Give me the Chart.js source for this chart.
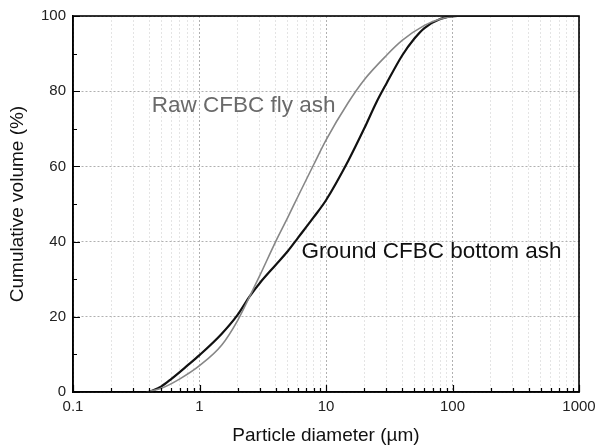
<!DOCTYPE html>
<html>
<head>
<meta charset="utf-8">
<script src="https://cdn.jsdelivr.net/npm/chart.js@4/dist/chart.umd.min.js"></script>
<style>
  html, body { margin: 0; padding: 0; background: #fff; }
  #wrap { width: 597px; height: 447px; }
</style>
</head>
<body>
<div id="wrap"><canvas id="psdChart"></canvas></div>
<script>
// particle size (um) and cumulative volume (%)
const rawSize = [0.38, 0.5, 0.7, 1, 1.5, 2, 2.5, 3, 4, 5, 6, 8, 10, 15, 20, 30, 40, 60, 80, 110, 1000];
const rawCum  = [0,    1,   3.5, 7, 12.5, 19, 25.5, 31, 40, 46.5, 52, 60.5, 67, 77, 83, 89.5, 93.5, 97.5, 99.2, 100, 100];

const groundSize = [0.4, 0.5, 0.6, 0.8, 1, 1.5, 2, 2.5, 3, 4, 5, 6, 8, 10, 15, 20, 25, 30, 40, 50, 60, 80, 110, 1000];
const groundCum  = [0,   1.5, 3.5, 7, 9.8, 15.5, 20.5, 25.5, 29, 33.8, 37.5, 41, 46.5, 51, 61.5, 70, 77, 82, 89.5, 94, 96.8, 99.2, 100, 100];

const xTickLabels = ['0.1', '1', '10', '100', '1000'];
const yTickLabels = ['0', '20', '40', '60', '80', '100'];

const seriesNames = ['Raw CFBC fly ash', 'Ground CFBC bottom ash'];

const FONT = '"Liberation Sans", Arial, sans-serif';

function toPoints(xs, ys) {
    return xs.map((x, i) => ({ x: x, y: ys[i] }));
}

function isDecade(v) {
    const l = Math.log10(v);
    return Math.abs(l - Math.round(l)) < 1e-9;
}

// frame, inward tick marks and curve labels
const framePlugin = {
    id: 'frame',
    afterDraw(chart) {
        const ctx = chart.ctx;
        const area = chart.chartArea;
        const xs = chart.scales.x;
        const ys = chart.scales.y;

        ctx.save();
        ctx.strokeStyle = '#000';
        ctx.lineWidth = 1.2;
        ctx.beginPath();
        xs.ticks.forEach(t => {
            const px = Math.round(xs.getPixelForValue(t.value)) + 0.5;
            const len = isDecade(t.value) ? 7 : 4;
            ctx.moveTo(px, area.bottom);
            ctx.lineTo(px, area.bottom - len);
        });
        ys.ticks.forEach(t => {
            const py = Math.round(ys.getPixelForValue(t.value)) + 0.5;
            const len = t.value % 20 === 0 ? 7 : 4;
            ctx.moveTo(area.left, py);
            ctx.lineTo(area.left + len, py);
        });
        ctx.stroke();

        ctx.lineWidth = 1.6;
        ctx.strokeRect(area.left, area.top, area.right - area.left, area.bottom - area.top);

        // curve labels
        ctx.font = '22.5px ' + FONT;
        ctx.textBaseline = 'middle';
        ctx.textAlign = 'left';
        ctx.fillStyle = '#6a6a6a';
        ctx.fillText(seriesNames[0], xs.getPixelForValue(0.42), ys.getPixelForValue(76));
        ctx.fillStyle = '#111';
        ctx.fillText(seriesNames[1], xs.getPixelForValue(6.4), ys.getPixelForValue(37.2));
        ctx.restore();
    }
};

const config = {
    type: 'line',
    data: {
        datasets: [{
            label: seriesNames[0],
            data: toPoints(rawSize, rawCum),
            borderColor: '#878787',
            borderWidth: 1.6,
            pointRadius: 0,
            cubicInterpolationMode: 'monotone',
            fill: false
        },
        {
            label: seriesNames[1],
            data: toPoints(groundSize, groundCum),
            borderColor: '#111',
            borderWidth: 2.2,
            pointRadius: 0,
            cubicInterpolationMode: 'monotone',
            fill: false
        }]
    },
    options: {
        responsive: true,
        maintainAspectRatio: false,
        animation: false,
        devicePixelRatio: 1,
        layout: { padding: { top: 16, right: 18, left: 0, bottom: 0 } },
        plugins: {
            legend: { display: false },
            tooltip: { enabled: false }
        },
        scales: {
            x: {
                type: 'logarithmic',
                min: 0.1,
                max: 1000,
                afterBuildTicks: scale => {
                    const ticks = [];
                    [0.1, 1, 10, 100].forEach(d => {
                        for (let m = 1; m <= 9; m++) ticks.push({ value: m * d });
                    });
                    ticks.push({ value: 1000 });
                    scale.ticks = ticks;
                },
                afterFit: scale => {
                    scale.height = 55;
                    scale.paddingLeft = 0;
                    scale.paddingRight = 0;
                },
                ticks: {
                    autoSkip: false,
                    maxRotation: 0,
                    padding: 6,
                    color: '#222',
                    font: { family: FONT, size: 15 },
                    callback: function (value) {
                        if (!isDecade(value)) return '';
                        return xTickLabels[Math.round(Math.log10(value)) + 1];
                    }
                },
                grid: {
                    drawTicks: false,
                    lineWidth: 1,
                    color: ctx => (ctx.tick && isDecade(ctx.tick.value)) ? '#b0b0b0' : '#e4e4e4'
                },
                border: { display: true, color: '#000', width: 1.5, dash: [2, 2] },
                title: {
                    display: true,
                    text: 'Particle diameter (µm)',
                    color: '#111',
                    font: { family: FONT, size: 19 },
                    padding: { top: 0, bottom: 0 }
                }
            },
            y: {
                min: 0,
                max: 100,
                afterBuildTicks: scale => {
                    const ticks = [];
                    for (let v = 0; v <= 100; v += 10) ticks.push({ value: v });
                    scale.ticks = ticks;
                },
                afterFit: scale => { scale.width = 73; },
                ticks: {
                    autoSkip: false,
                    padding: 7,
                    color: '#222',
                    font: { family: FONT, size: 15 },
                    callback: function (value) {
                        return value % 20 === 0 ? yTickLabels[value / 20] : '';
                    }
                },
                grid: {
                    drawTicks: false,
                    lineWidth: 1,
                    color: ctx => (ctx.tick && ctx.tick.value % 20 === 0) ? '#b0b0b0' : 'rgba(0,0,0,0)'
                },
                border: { display: true, color: '#000', width: 1.5, dash: [2, 2] },
                title: {
                    display: true,
                    text: 'Cumulative volume (%)',
                    color: '#111',
                    font: { family: FONT, size: 19 },
                    padding: { top: 6, bottom: 0 }
                }
            }
        }
    },
    plugins: [framePlugin]
};

new Chart(document.getElementById('psdChart'), config);
</script>
</body>
</html>
